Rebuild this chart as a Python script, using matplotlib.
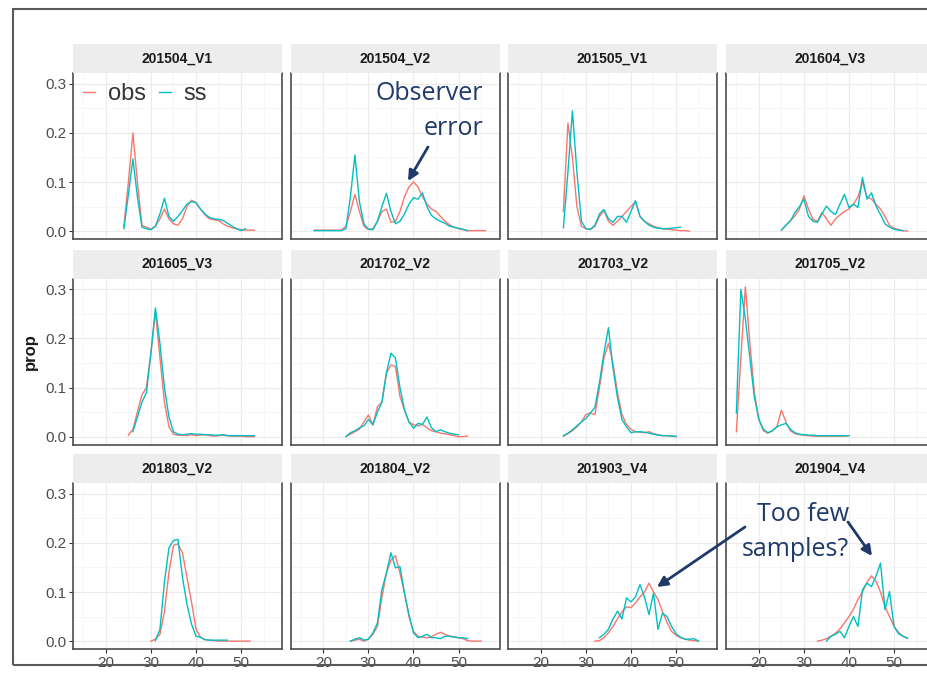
import matplotlib
matplotlib.use("Agg")
import matplotlib.pyplot as plt
from matplotlib.patches import Rectangle, FancyArrowPatch
from matplotlib.lines import Line2D

plt.rcParams['font.family'] = ['Liberation Sans', 'DejaVu Sans']

# facet names, in reading order
panels = ["201504_V1", "201504_V2", "201505_V1", "201604_V3",
          "201605_V3", "201702_V2", "201703_V2", "201705_V2",
          "201803_V2", "201804_V2", "201903_V4", "201904_V4"]

# proportion by length (first length of each series in *_start)
obs_start = [24, 18, 25, 25, 25, 25, 25, 15, 30, 26, 32, 33]
ss_start = [24, 18, 25, 25, 26, 25, 25, 15, 31, 26, 33, 35]

obs_201504_V1 = [.01, .10, .20, .10, .012, .008, .004, .01, .025, .045, .025, .015, .012, .025, .05,
                 .063, .058, .045, .033, .025, .023, .022, .015, .01, .007, .005, .003, .002, .002, .002]
ss_201504_V1 = [.005, .075, .147, .07, .008, .005, .003, .01, .035, .067, .03, .02, .03, .042, .055,
                .06, .058, .045, .035, .028, .025, .024, .022, .016, .01, .005, .001, .005]

obs_201504_V2 = [.002, .002, .002, .002, .002, .002, .002, .01, .04, .075, .04, .01, .003, .005, .02,
                 .04, .045, .018, .02, .04, .07, .09, .1, .09, .07, .055, .045, .04, .03, .02, .013,
                 .008, .005, .003, .001, .001, .001, .001, .001]
ss_201504_V2 = [.001, .001, .001, .001, .001, .001, .001, .005, .07, .155, .06, .015, .004, .003, .02,
                .05, .077, .04, .015, .02, .035, .055, .068, .065, .078, .05, .032, .025, .02, .016,
                .01, .008, .006, .004, .001]

obs_201505_V1 = [.04, .22, .15, .05, .01, .005, .003, .01, .03, .042, .02, .012, .02, .03, .04, .05,
                 .06, .03, .02, .015, .01, .007, .005, .004, .003, .002, .001, .001, 0]
ss_201505_V1 = [.007, .12, .245, .12, .02, .005, .004, .012, .035, .044, .025, .018, .03, .03, .018,
                .04, .062, .03, .02, .012, .008, .006, .005, .005, .006, .007, .008]

obs_201604_V3 = [.002, .012, .021, .031, .045, .072, .045, .024, .02, .038, .025, .012, .025, .033,
                 .04, .045, .055, .07, .1, .07, .065, .055, .045, .03, .012, .006, .003, .001, 0]
ss_201604_V3 = [.002, .012, .021, .038, .05, .065, .03, .02, .018, .035, .051, .04, .034, .055, .075,
                .048, .055, .048, .109, .065, .078, .051, .034, .015, .008, .004, .002, .001]

obs_201605_V3 = [.003, .015, .05, .085, .1, .17, .255, .16, .07, .02, .005, .003, .003, .002, .004,
                 .002, .003, .004, .002, .001, .002, .003, .002, .001, .001, .001, 0, 0, 0]
ss_201605_V3 = [.01, .04, .07, .09, .17, .262, .19, .1, .04, .01, .005, .004, .005, .006, .005, .005,
                .004, .004, .003, .003, .004, .002, .002, .002, .002, .002, .002, .002]

obs_201702_V2 = [0, .005, .01, .015, .03, .044, .024, .061, .07, .129, .146, .143, .082, .054, .03,
                 .024, .022, .025, .018, .012, .01, .007, .006, .004, .002, 0, 0, .001]
ss_201702_V2 = [0, .008, .012, .018, .022, .035, .024, .05, .07, .13, .17, .16, .1, .055, .03, .017,
                .027, .025, .04, .018, .01, .014, .01, .007, .005, .004]

obs_201703_V2 = [.001, .006, .012, .02, .03, .045, .048, .045, .1, .16, .19, .15, .09, .045, .025,
                 .015, .01, .009, .008, .01, .006, .004, .002, .002, .001, 0]
ss_201703_V2 = [.002, .007, .014, .022, .03, .037, .048, .06, .11, .17, .222, .14, .08, .035, .02,
                .008, .01, .01, .009, .007, .005, .003, .002, .002, .001, .001]

obs_201705_V2 = [.01, .16, .305, .19, .09, .035, .012, .007, .012, .02, .054, .03, .012, .006, .004,
                 .003, .002, .001, .001, .001, .001, .001, .001, .001, .001, .002]
ss_201705_V2 = [.048, .3, .24, .16, .08, .035, .015, .008, .012, .02, .024, .027, .015, .008, .005,
                .004, .003, .003, .002, .002, .002, .002, .002, .002, .002, .002]

obs_201803_V2 = [0, .004, .014, .06, .14, .195, .198, .18, .13, .08, .025, .008, .003, .002, .001,
                 0, 0, 0, 0, 0, 0, 0, 0]
ss_201803_V2 = [.001, .024, .12, .19, .205, .207, .13, .075, .035, .01, .008, .003, .002, .002, .002,
                .002, .002]

obs_201804_V2 = [0, .002, .004, 0, .004, .014, .03, .09, .139, .165, .174, .139, .098, .05, .02, .01,
                 .008, .007, .009, .014, .018, .014, .01, .009, .007, .005, .001, 0, 0, 0]
ss_201804_V2 = [0, .004, .007, .002, .004, .017, .037, .105, .139, .18, .149, .152, .098, .054, .017,
                .007, .01, .014, .007, .007, .005, .01, .01, .008, .007, .007, .005]

obs_201903_V4 = [0, .001, .007, .017, .03, .045, .06, .07, .068, .078, .09, .1, .118, .1, .085, .06,
                 .038, .02, .012, .007, .004, .002, .001, 0]
ss_201903_V4 = [.007, .014, .024, .045, .061, .045, .088, .08, .09, .115, .09, .054, .098, .024, .057,
                .05, .03, .015, .008, .004, .004, .005, 0]

obs_201904_V4 = [0, .002, .005, .01, .016, .025, .037, .05, .065, .085, .1, .12, .133, .122, .1, .07,
                 .05, .03, .018, .01, .006]
ss_201904_V4 = [0, .01, .014, .02, .007, .03, .05, .03, .105, .118, .111, .132, .159, .064, .101, .03,
                .015, .01, .006]

obs_series = [obs_201504_V1, obs_201504_V2, obs_201505_V1, obs_201604_V3, obs_201605_V3,
              obs_201702_V2, obs_201703_V2, obs_201705_V2, obs_201803_V2, obs_201804_V2,
              obs_201903_V4, obs_201904_V4]
ss_series = [ss_201504_V1, ss_201504_V2, ss_201505_V1, ss_201604_V3, ss_201605_V3,
             ss_201702_V2, ss_201703_V2, ss_201705_V2, ss_201803_V2, ss_201804_V2,
             ss_201903_V4, ss_201904_V4]

OBS_COL = '#F8766D'
SS_COL = '#00BFC4'
NAVY = '#1F3A68'

W, H = 928, 675
fig = plt.figure(figsize=(W / 100, H / 100), dpi=100)


def box(x0, y0, w, h):
    # pixel box (top-left origin) -> figure fraction
    return [x0 / W, 1 - (y0 + h) / H, w / W, h / H]


col_left = [73, 290.5, 508, 726]
panel_top = [73, 278.5, 483]
pw, ph, sh = 209, 166, 29

axes = []
for i, name in enumerate(panels):
    r, c = divmod(i, 4)
    ax = fig.add_axes(box(col_left[c], panel_top[r], pw, ph))
    xo = list(range(obs_start[i], obs_start[i] + len(obs_series[i])))
    xs = list(range(ss_start[i], ss_start[i] + len(ss_series[i])))
    ax.plot(xo, obs_series[i], color=OBS_COL, lw=1.0, label='obs')
    ax.plot(xs, ss_series[i], color=SS_COL, lw=1.0, label='ss')
    ax.set_xlim(12.7, 59.1)
    ax.set_ylim(-0.016, 0.322)
    ax.set_xticks([20, 30, 40, 50])
    ax.set_xticks([15, 25, 35, 45, 55], minor=True)
    ax.set_yticks([0, 0.1, 0.2, 0.3])
    ax.set_yticklabels(['0.0', '0.1', '0.2', '0.3'])
    ax.set_yticks([0.05, 0.15, 0.25], minor=True)
    ax.grid(which='major', color='#EBEBEB', lw=0.8)
    ax.grid(which='minor', color='#F5F5F5', lw=0.6)
    ax.set_axisbelow(True)
    ax.tick_params(which='minor', length=0)
    ax.tick_params(axis='y', length=3 if c == 0 else 0, labelleft=(c == 0),
                   labelsize=11, labelcolor='#4D4D4D', color='#333333', pad=2)
    ax.tick_params(axis='x', length=3 if r == 2 else 0, labelbottom=(r == 2),
                   labelsize=11, labelcolor='#4D4D4D', color='#333333', pad=2)
    for s in ['left', 'right', 'bottom']:
        ax.spines[s].set_color('#4D4D4D')
        ax.spines[s].set_linewidth(1.2)
    ax.spines['top'].set_visible(False)
    axes.append(ax)

    st = fig.add_axes(box(col_left[c], panel_top[r] - sh, pw, sh))
    st.set_facecolor('#EDEDED')
    st.set_xticks([])
    st.set_yticks([])
    for s in st.spines.values():
        s.set_visible(False)
    st.text(0.5, 0.5, name, ha='center', va='center', fontsize=10,
            fontweight='bold', color='#1A1A1A', transform=st.transAxes)

# legend inside first panel
handles = [Line2D([], [], color=OBS_COL, lw=1.0), Line2D([], [], color=SS_COL, lw=1.0)]
leg = axes[0].legend(handles, ['obs', 'ss'], loc='upper left', ncol=2, frameon=False,
                     fontsize=17, handlelength=0.5, handletextpad=0.55, columnspacing=0.55,
                     borderpad=0, borderaxespad=0,
                     bbox_to_anchor=(83 / W, 1 - 83 / H), bbox_transform=fig.transFigure)
for t in leg.get_texts():
    t.set_color('#333333')

fig.text(30 / W, 1 - 352 / H, 'prop', rotation=90, fontsize=12, fontweight='bold',
         ha='center', va='center', color='#1A1A1A')

# outer frame (right edge is cropped off)
fig.add_artist(Rectangle((13 / W, 1 - 665 / H), 960 / W, 656 / H, transform=fig.transFigure,
                         fill=False, edgecolor='#595959', lw=1.5))

# annotations
afont = dict(family=['Open Sans', 'DejaVu Sans'], fontsize=18, color=NAVY, ha='right', va='baseline')
fig.text(483 / W, 1 - 100 / H, 'Observer', **afont)
fig.text(483 / W, 1 - 135 / H, 'error', **afont)
fig.text(849 / W, 1 - 521 / H, 'Too few', **afont)
fig.text(849 / W, 1 - 556 / H, 'samples?', **afont)


def arrow(x0, y0, x1, y1):
    fig.add_artist(FancyArrowPatch((x0 / W, 1 - y0 / H), (x1 / W, 1 - y1 / H),
                                   transform=fig.transFigure, arrowstyle='-|>',
                                   mutation_scale=15, lw=2.0, color=NAVY,
                                   shrinkA=0, shrinkB=0))


arrow(428, 147, 408, 181)
arrow(745, 527, 657, 587)
arrow(848, 522, 872, 556)

fig.savefig('out.png', dpi=100)
